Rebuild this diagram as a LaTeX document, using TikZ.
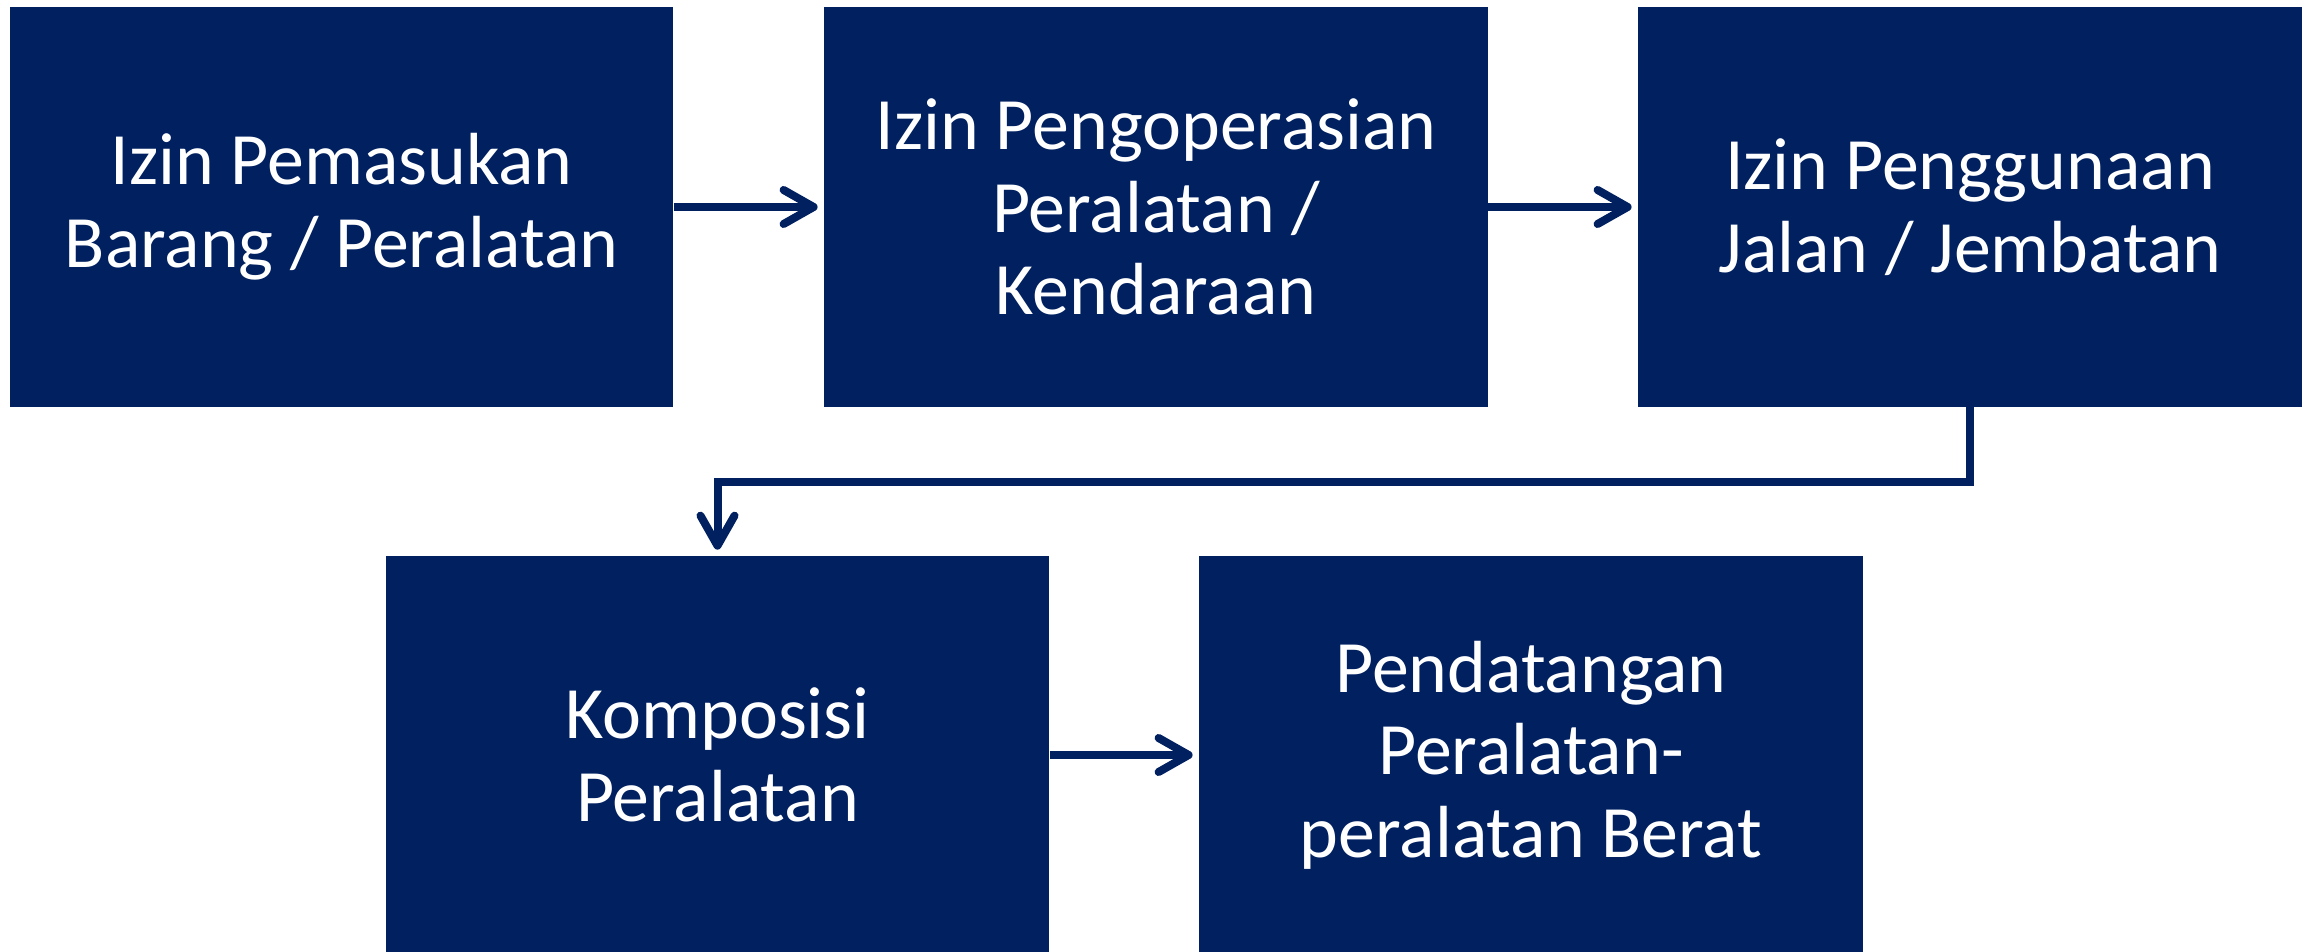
\documentclass[tikz,border=0pt]{standalone}
\usepackage{fontspec}
\setmainfont{Carlito}
\usetikzlibrary{arrows.meta}
\definecolor{navy}{RGB}{0,32,96}
\begin{document}
\begin{tikzpicture}[x=0.01cm,y=-0.01cm,
  box/.style={fill=navy, draw=none, minimum width=6.63cm, text=white, align=center,
    font=\fontsize{21}{23.5}\selectfont, inner sep=0pt},
  toprow/.style={box, minimum height=3.99cm},
  botrow/.style={box, minimum height=3.97cm},
  conn/.style={draw=navy, line width=0.08cm, -{Straight Barb[length=0.3cm,width=0.34cm,round]}, shorten >=0.06cm}]
\useasboundingbox (0,0) rectangle (2308,952);
\node[toprow] (b1) at (341.5,207) {Izin Pemasukan\\Barang / Peralatan};
\node[toprow] (b2) at (1156,207) {Izin Pengoperasian\\Peralatan /\\Kendaraan};
\node[toprow] (b3) at (1970,207) {Izin Penggunaan\\Jalan / Jembatan};
\node[botrow] (b4) at (717.5,755) {Komposisi\\Peralatan};
\node[botrow] (b5) at (1531,755) {Pendatangan\\Peralatan-\\peralatan Berat};
\draw[conn] (b1.east) -- (b2.west);
\draw[conn] (b2.east) -- (b3.west);
\draw[conn] (b4.east) -- (b5.west);
\draw[conn] (b3.south) -- ++(0,75) -| (b4.north);
\end{tikzpicture}
\end{document}
